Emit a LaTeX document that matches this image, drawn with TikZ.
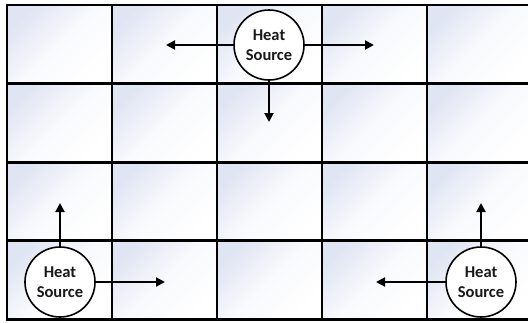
\documentclass[tikz,border=0pt]{standalone}
\usepackage{fontspec}
\setmainfont{Carlito}
\usetikzlibrary{arrows.meta}
\definecolor{cellblue}{RGB}{224,229,243}
\tikzset{
  cellfill/.style={top color=cellblue,bottom color=white,middle color=white!80!cellblue,shading angle=45},
  gridline/.style={line width=2.8pt,black},
  heat/.style={circle,draw=black,line width=1.6pt,fill=white,minimum size=70pt,inner sep=0pt,align=center,
    font=\fontsize{16.5}{20}\selectfont\bfseries,text=black!90},
  arr/.style={line width=2pt,-{Triangle[length=9pt,width=9pt]}}
}
\begin{document}
\begin{tikzpicture}[x=1pt,y=-1pt]
\useasboundingbox (0,0) rectangle (528,322);
\clip (0,0) rectangle (528,322);
\fill[white] (0,0) rectangle (528,322);
\foreach \i in {0,...,4}
  \foreach \j in {0,...,3}
    \shade[cellfill] ({7+\i*105},{5+\j*78.6}) rectangle ++(105,78.6);
\foreach \i in {0,...,5}
  \draw[gridline] ({7+\i*105},5) -- ({7+\i*105},319.4);
\foreach \j in {0,...,4}
  \draw[gridline] (5.6,{5+\j*78.6}) -- (540,{5+\j*78.6});
\node[heat] (t) at (269,45) {Heat\\Source};
\node[heat] (bl) at (60,282) {Heat\\Source};
\node[heat] (br) at (481,282) {Heat\\Source};
\coordinate (tL) at (166,45);
\coordinate (tR) at (374,45);
\coordinate (tD) at (269,122);
\coordinate (blU) at (60,203);
\coordinate (blR) at (165,282);
\coordinate (brU) at (481,203);
\coordinate (brL) at (376,282);
\draw[arr] (t.west) -- (tL);
\draw[arr] (t.east) -- (tR);
\draw[arr] (t.south) -- (tD);
\draw[arr] (bl.north) -- (blU);
\draw[arr] (bl.east) -- (blR);
\draw[arr] (br.north) -- (brU);
\draw[arr] (br.west) -- (brL);
\end{tikzpicture}
\end{document}
